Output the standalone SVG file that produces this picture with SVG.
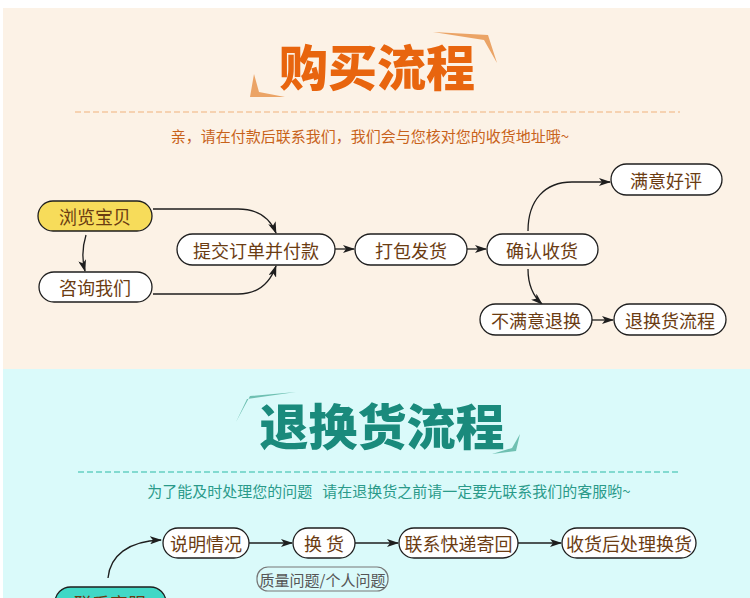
<svg xmlns="http://www.w3.org/2000/svg" width="750" height="598" viewBox="0 0 750 598">
<defs>
<style>
.n{fill:#fff;stroke:#1e1e1e;stroke-width:1.3}
.t{font-family:"Noto Sans CJK SC","Noto Sans",sans-serif;font-size:18px;fill:#6b3c12;text-anchor:middle;dominant-baseline:central}
.c{fill:none;stroke:#1e1e1e;stroke-width:1.3}
.h{font-family:"Noto Sans CJK SC",sans-serif;font-weight:900;font-size:49px;text-anchor:middle}
.s{font-family:"Noto Sans CJK SC",sans-serif;font-size:15px;text-anchor:middle}
</style>
<marker id="a" viewBox="0 0 12 8" refX="11" refY="4" markerWidth="12" markerHeight="8" markerUnits="userSpaceOnUse" orient="auto">
<path d="M0,0 L12,4 L0,8 L3,4 Z" fill="#1e1e1e"/>
</marker>
</defs>
<rect x="0" y="0" width="750" height="598" fill="#ffffff"/>
<rect x="3" y="8" width="747" height="362" fill="#fcf2e6"/>
<rect x="3" y="369" width="747" height="229" fill="#dafafa"/>

<g id="title1">
<polygon points="433,32 488,35 497,63 484,40" fill="#eba466"/>
<polygon points="254,74 259,92 285,97 250,97" fill="#eba466"/>
<text class="h" x="377" y="86" fill="#e8650e">购买流程</text>
<line x1="75" y1="112" x2="680" y2="112" stroke="#f3c8a0" stroke-width="1.5" stroke-dasharray="6,3"/>
<text class="s" x="370" y="142" fill="#c8621a">亲，请在付款后联系我们，我们会与您核对您的收货地址哦~</text>
</g>

<g id="connectors1">
<path class="c" d="M153,209 L238,209 C258,209 270,218 276,233" marker-end="url(#a)"/>
<path class="c" d="M153,294 L238,294 C258,294 270,283 276,266" marker-end="url(#a)"/>
<path class="c" d="M86,235 C82,248 82,260 85,271" marker-end="url(#a)"/>
<path class="c" d="M335,249 L354,249" marker-end="url(#a)"/>
<path class="c" d="M467,249 L486,249" marker-end="url(#a)"/>
<path class="c" d="M528,231 C528,200 545,182 572,182 L610,182" marker-end="url(#a)"/>
<path class="c" d="M528,269 C528,285 533,296 542,304" marker-end="url(#a)"/>
<path class="c" d="M592,320 L613,320" marker-end="url(#a)"/>
</g>

<g id="n1"><rect x="38" y="201" width="114" height="30" rx="15" fill="#f7dc5a" stroke="#1e1e1e" stroke-width="1.3"/><text class="t" x="95" y="216">浏览宝贝</text></g>
<g id="n2"><rect class="n" x="39" y="272" width="113" height="30" rx="15"/><text class="t" x="95" y="287">咨询我们</text></g>
<g id="n3"><rect class="n" x="177" y="234" width="158" height="31" rx="15.5"/><text class="t" x="256" y="249.5">提交订单并付款</text></g>
<g id="n4"><rect class="n" x="355" y="234" width="112" height="31" rx="15.5"/><text class="t" x="411" y="249.5">打包发货</text></g>
<g id="n5"><rect class="n" x="487" y="234" width="111" height="31" rx="15.5"/><text class="t" x="542" y="249.5">确认收货</text></g>
<g id="n6"><rect class="n" x="611" y="164" width="111" height="31" rx="15.5"/><text class="t" x="666" y="179.5">满意好评</text></g>
<g id="n7"><rect class="n" x="480" y="304" width="112" height="31" rx="15.5"/><text class="t" x="536" y="319.5">不满意退换</text></g>
<g id="n8"><rect class="n" x="614" y="304" width="112" height="31" rx="15.5"/><text class="t" x="670" y="319.5">退换货流程</text></g>

<g id="title2">
<polygon points="296,392 250,396 236,422 247,399" fill="#6fc0b2"/>
<polygon points="520,434 516,451 492,454 512,448" fill="#6fc0b2"/>
<text class="h" x="382" y="445" fill="#1a8a7c">退换货流程</text>
<line x1="78" y1="472" x2="680" y2="472" stroke="#66d0c2" stroke-width="1.5" stroke-dasharray="6,3"/>
<text class="s" x="389" y="497" fill="#2a9a8a" xml:space="preserve">为了能及时处理您的问题   请在退换货之前请一定要先联系我们的客服哟~</text>
</g>

<g id="connectors2">
<path class="c" d="M108,578 C110,556 128,541 161,540" marker-end="url(#a)"/>
<path class="c" d="M249,543 L292,543" marker-end="url(#a)"/>
<path class="c" d="M355,543 L398,543" marker-end="url(#a)"/>
<path class="c" d="M518,543 L561,543" marker-end="url(#a)"/>
</g>

<g id="m0"><rect x="55" y="587" width="111" height="31" rx="15.5" fill="#40d8c6" stroke="#1e1e1e" stroke-width="1.3"/><text class="t" x="110" y="602.5">联系客服</text></g>
<g id="m1"><rect class="n" x="163" y="528" width="86" height="30" rx="15"/><text class="t" x="206" y="543">说明情况</text></g>
<g id="m2"><rect class="n" x="293" y="528" width="62" height="30" rx="15"/><text class="t" x="324" y="543" xml:space="preserve">换 货</text></g>
<g id="m3"><rect class="n" x="399" y="528" width="119" height="30" rx="15"/><text class="t" x="458.5" y="543">联系快递寄回</text></g>
<g id="m4"><rect class="n" x="562" y="528" width="134" height="30" rx="15"/><text class="t" x="629" y="543">收货后处理换货</text></g>
<g id="lbl"><rect x="257" y="567" width="131" height="24" rx="11" fill="none" stroke="#777" stroke-width="1.2"/><text class="s" x="322.5" y="579" fill="#555" font-size="14px" dominant-baseline="central">质量问题/个人问题</text></g>
</svg>
